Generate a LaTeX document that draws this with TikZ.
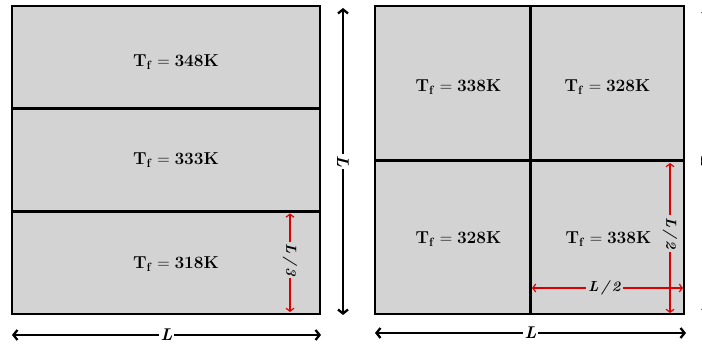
\documentclass[tikz,border=0pt]{standalone}
\usetikzlibrary{arrows.meta}
\definecolor{cellgray}{RGB}{211,211,211}
\definecolor{dimred}{RGB}{220,0,0}
\begin{document}
\begin{tikzpicture}[x=1pt,y=-1pt,
  cell/.style={fill=cellgray,draw=black,line width=2.6pt},
  divider/.style={draw=black,line width=2.6pt},
  tlabel/.style={font=\fontsize{17.5}{20}\selectfont,inner sep=0pt},
  bigdim/.style={line width=2.3pt,{Straight Barb[length=4pt,width=10pt]}-{Straight Barb[length=4pt,width=10pt]}},
  reddim/.style={draw=dimred,line width=1.2pt,{Straight Barb[length=3pt,width=8pt]}-{Straight Barb[length=3pt,width=8pt]}},
  biglbl/.style={fill=white,inner sep=2pt,font=\fontsize{17}{19}\selectfont\bfseries\itshape},
  redlbl/.style={fill=cellgray,inner sep=2pt,font=\fontsize{14.5}{16}\selectfont\bfseries\itshape}]
\useasboundingbox (0,0) rectangle (702,344);
% left panel
\draw[cell] (12,6) rectangle (320,314);
\draw[divider] (12,108.7) -- (320,108.7);
\draw[divider] (12,211.3) -- (320,211.3);
\node[tlabel] (a1) at (176,62) {$\mathbf{T_f = 348K}$};
\node[tlabel] (a2) at (176,160) {$\mathbf{T_f = 333K}$};
\node[tlabel] (a3) at (176,264) {$\mathbf{T_f = 318K}$};
% right panel
\draw[cell] (375,6) rectangle (684,314);
\draw[divider] (530.5,6) -- (530.5,314);
\draw[divider] (375,160.5) -- (684,160.5);
\node[tlabel] (b1) at (458.5,87) {$\mathbf{T_f = 338K}$};
\node[tlabel] (b2) at (607.5,87) {$\mathbf{T_f = 328K}$};
\node[tlabel] (b3) at (458.5,239) {$\mathbf{T_f = 328K}$};
\node[tlabel] (b4) at (608.5,239) {$\mathbf{T_f = 338K}$};
% left dimensions
\coordinate (lb1) at (12,335);
\coordinate (lb2) at (321,335);
\draw[bigdim] (lb1) -- (lb2) node[biglbl,pos=0.5] (lL) {L};
\coordinate (lv1) at (343,8);
\coordinate (lv2) at (343,315);
\draw[bigdim] (lv1) -- (lv2) node[biglbl,pos=0.5,rotate=-90] (lV) {L};
\coordinate (lr1) at (290,213.5);
\coordinate (lr2) at (290,312);
\draw[reddim] (lr1) -- (lr2) node[redlbl,pos=0.47,rotate=-90] (l3) {L\,/\,3};
% right dimensions
\coordinate (rb1) at (375,333);
\coordinate (rb2) at (686,333);
\draw[bigdim] (rb1) -- (rb2) node[biglbl,pos=0.5] (rL) {L};
\coordinate (rv1) at (707,8);
\coordinate (rv2) at (707,314);
\draw[bigdim] (rv1) -- (rv2) node[biglbl,pos=0.5,rotate=-90] (rV) {L};
\coordinate (rr1) at (670,163);
\coordinate (rr2) at (670,313);
\draw[reddim] (rr1) -- (rr2) node[redlbl,pos=0.47,rotate=-90] (r2v) {L\,/\,2};
\coordinate (rh1) at (532,288);
\coordinate (rh2) at (683,288);
\draw[reddim] (rh1) -- (rh2) node[redlbl,pos=0.48] (r2h) {L\,/\,2};
\end{tikzpicture}
\end{document}
